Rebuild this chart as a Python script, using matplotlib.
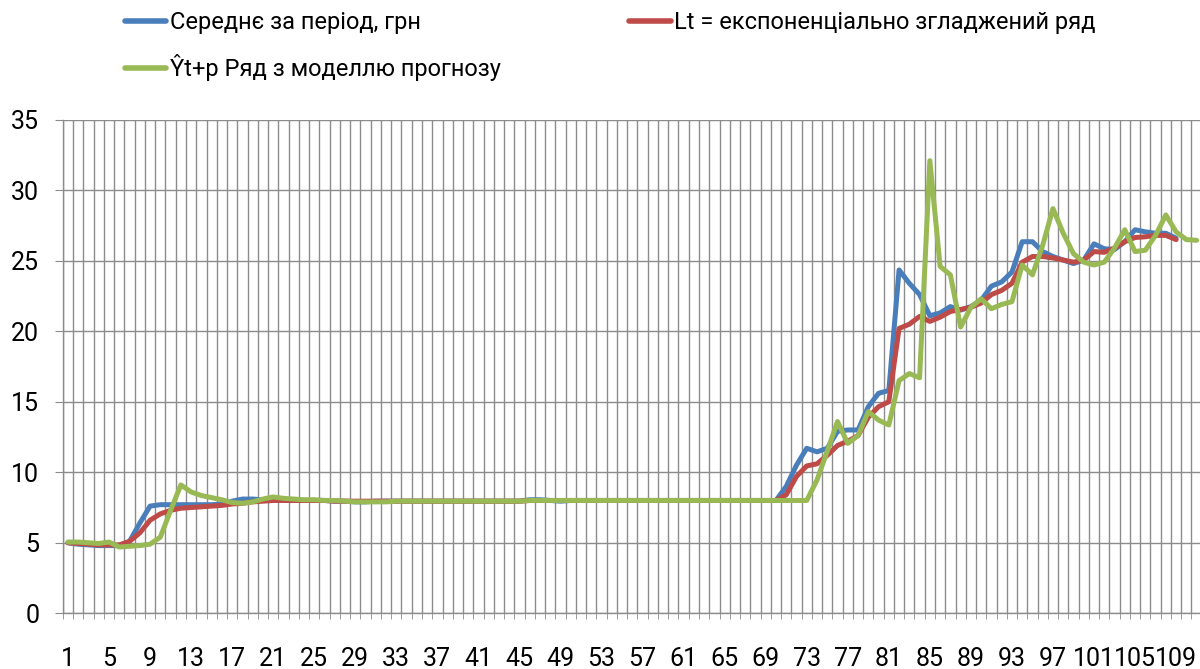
import numpy as np
import matplotlib
matplotlib.use('Agg')
import matplotlib.pyplot as plt

# values, one per period
blue_vals = [
    5.0, 4.9, 4.85, 4.8, 4.8, 4.8, 5.1, 6.4, 7.6, 7.7,
    7.7, 7.7, 7.7, 7.7, 7.7, 7.75, 7.95, 8.1, 8.1, 8.05,
    8.0, 8.0, 8.0, 8.0, 8.0, 8.0, 7.95, 7.95, 7.9, 7.9,
    7.95, 7.95, 7.95, 7.95, 7.95, 7.95, 7.95, 7.95, 7.95, 7.95,
    7.95, 7.95, 7.95, 7.95, 7.95, 8.05, 8.05, 8.0, 7.95, 8.0,
    8.0, 8.0, 8.0, 8.0, 8.0, 8.0, 8.0, 8.0, 8.0, 8.0,
    8.0, 8.0, 8.0, 8.0, 8.0, 8.0, 8.0, 8.0, 8.0, 8.0,
    9.0, 10.5, 11.7, 11.45, 11.7, 12.9, 13.0, 13.0, 14.65, 15.6,
    15.8, 24.35, 23.4, 22.6, 21.1, 21.3, 21.75, 21.5, 21.75, 22.2,
    23.2, 23.5, 24.2, 26.35, 26.35, 25.65, 25.3, 25.05, 24.8, 25.05,
    26.2, 25.85, 25.8, 26.35, 27.2, 27.05, 26.95, 26.95, 26.6,
]

red_vals = [
    5.0, 4.95, 4.9, 4.85, 4.85, 4.85, 5.1, 5.7, 6.6, 7.05,
    7.3, 7.45, 7.5, 7.55, 7.6, 7.65, 7.75, 7.8, 7.9, 7.95,
    8.0, 8.0, 8.0, 8.0, 8.0, 8.0, 7.95, 7.95, 7.95, 7.95,
    7.95, 7.95, 7.95, 7.95, 7.95, 7.95, 7.95, 7.95, 7.95, 7.95,
    7.95, 7.95, 7.95, 7.95, 7.95, 8.0, 8.0, 8.0, 8.0, 8.0,
    8.0, 8.0, 8.0, 8.0, 8.0, 8.0, 8.0, 8.0, 8.0, 8.0,
    8.0, 8.0, 8.0, 8.0, 8.0, 8.0, 8.0, 8.0, 8.0, 8.0,
    8.4, 9.7, 10.45, 10.6, 11.2, 11.9, 12.2, 12.6, 13.9, 14.65,
    15.0, 20.2, 20.5, 21.05, 20.7, 21.0, 21.4, 21.55, 21.7, 22.0,
    22.6, 22.9, 23.4, 24.9, 25.3, 25.3, 25.2, 25.05, 24.9, 25.05,
    25.65, 25.6, 25.9, 26.35, 26.65, 26.7, 26.8, 26.8, 26.5,
]

green_vals = [
    5.05, 5.05, 5.0, 4.95, 5.05, 4.7, 4.75, 4.8, 4.9, 5.4,
    7.3, 9.1, 8.6, 8.35, 8.2, 8.05, 7.85, 7.8, 7.9, 8.1,
    8.25, 8.15, 8.1, 8.05, 8.05, 8.0, 8.0, 7.95, 7.9, 7.9,
    7.9, 7.9, 7.95, 7.95, 7.95, 7.95, 7.95, 7.95, 7.95, 7.95,
    7.95, 7.95, 7.95, 7.95, 7.95, 8.0, 8.0, 8.0, 8.0, 8.0,
    8.0, 8.0, 8.0, 8.0, 8.0, 8.0, 8.0, 8.0, 8.0, 8.0,
    8.0, 8.0, 8.0, 8.0, 8.0, 8.0, 8.0, 8.0, 8.0, 8.0,
    8.0, 8.0, 8.0, 9.45, 11.5, 13.6, 12.05, 12.6, 14.3, 13.7,
    13.35, 16.5, 17.0, 16.7, 32.1, 24.6, 24.0, 20.3, 21.7, 22.3,
    21.6, 21.9, 22.1, 24.7, 24.0, 26.1, 28.7, 26.95, 25.5, 24.9,
    24.7, 24.9, 25.9, 27.2, 25.65, 25.75, 26.8, 28.25, 27.05, 26.5,
    26.45,
]

labels = ['Середнє за період, грн',
          'Lt = експоненціально згладжений ряд',
          'Ŷt+р Ряд з моделлю прогнозу']
colors = ['#4A7EBB', '#BE4B48', '#98B954']

n_cats = 112
tick_step = 4
y_max = 35
y_step = 5


def make_chart():
    plt.rcParams['font.family'] = ['Roboto', 'DejaVu Sans']
    fig = plt.figure(figsize=(12, 6.69), dpi=100)
    ax = fig.add_axes([0.0524, 0.0833, 0.9476, 0.7377])

    lines = []
    for vals, lab, col in zip([blue_vals, red_vals, green_vals], labels, colors):
        x = np.arange(1, len(vals) + 1)
        ln, = ax.plot(x, vals, color=col, lw=3.6, label=lab,
                      solid_joinstyle='round', solid_capstyle='round')
        lines.append(ln)

    # category boundaries carry the vertical grid, labels sit on centres
    ax.set_xticks(np.arange(0.5, n_cats + 1, 1), minor=True)
    ticks = np.arange(1, n_cats + 1, tick_step)
    ax.set_xticks(ticks)
    ax.set_xticklabels([str(t) for t in ticks])
    ax.set_yticks(np.arange(0, y_max + 1, y_step))

    # set limits after the ticks, otherwise set_xticks widens them
    ax.set_xlim(0.5, 111.33)
    ax.set_ylim(0, y_max)

    ax.grid(which='minor', axis='x', color='#8C8C8C', lw=1.0)
    ax.grid(which='major', axis='y', color='#8C8C8C', lw=1.0)
    ax.set_axisbelow(True)

    ax.tick_params(axis='x', which='major', length=0, pad=24, labelsize=18)
    ax.tick_params(axis='x', which='minor', length=4.5, color='#8C8C8C')
    ax.tick_params(axis='y', which='major', length=6, color='#8C8C8C',
                   pad=11, labelsize=18)

    for side in ['top', 'right']:
        ax.spines[side].set_visible(False)
    for side in ['left', 'bottom']:
        ax.spines[side].set_color('#8C8C8C')
        ax.spines[side].set_linewidth(1.0)

    # row 1: blue, red; row 2: green
    leg = fig.legend([lines[0], lines[2], lines[1]],
                     [labels[0], labels[2], labels[1]],
                     ncol=2, loc='upper left', bbox_to_anchor=(0.104, 0.983),
                     frameon=False, fontsize=17, borderpad=0, borderaxespad=0,
                     handlelength=1.75, handletextpad=0.15, columnspacing=5.45,
                     labelspacing=0.85)
    for h in leg.legend_handles:
        h.set_linewidth(4.0)

    fig.savefig('out.png', dpi=100)


if __name__ == '__main__':
    make_chart()
